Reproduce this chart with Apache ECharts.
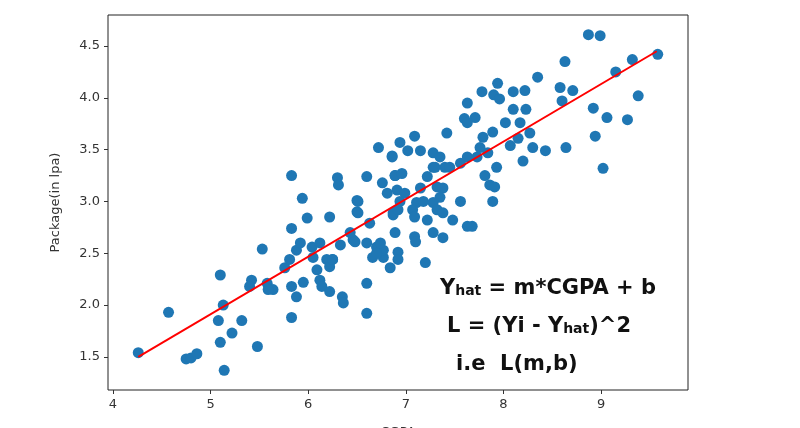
<!DOCTYPE html>
<html>
<head>
<meta charset="utf-8">
<script src="https://cdn.jsdelivr.net/npm/echarts@6/dist/echarts.min.js"></script>
<style>html,body{margin:0;padding:0;background:#fff}#main{width:800px;height:428px}</style>
</head>
<body>
<div id="main"></div>
<script>
// CGPA vs package points
var cgpa = [4.26,4.57,4.75,4.8,4.86,5.1,5.08,5.13,5.1,5.14,5.22,5.32,5.48,5.53,5.42,5.4,5.58,5.64,5.59,
  5.83,5.88,5.95,5.76,5.81,5.88,5.92,5.83,5.94,5.99,5.83,5.83,6.04,6.12,6.05,6.09,6.12,6.14,6.22,
  6.19,6.25,6.22,6.35,6.36,6.46,6.6,6.7,6.74,6.6,6.6,6.66,6.77,6.84,6.86,6.89,6.87,6.5,6.5,
  6.22,6.25,6.43,6.33,6.48,6.63,6.51,6.51,6.6,6.3,6.31,6.76,6.81,6.89,6.96,6.91,6.99,6.94,6.77,
  6.72,6.86,7.02,7.15,7.28,7.35,7.09,6.94,7.15,7.22,7.28,7.32,7.38,7.35,7.11,7.18,7.07,6.87,6.92,
  7.28,7.32,7.38,7.4,7.56,7.45,7.3,7.48,7.38,7.28,7.22,7.09,7.09,7.1,7.2,6.92,6.92,6.89,6.74,6.7,
  7.42,7.63,7.73,7.93,7.81,7.86,7.91,7.89,7.56,7.63,7.68,7.6,7.71,7.63,7.63,7.78,7.9,7.96,7.94,
  8.02,8.17,7.79,7.89,7.76,7.84,8.07,8.15,8.1,8.22,8.1,8.23,8.27,8.2,8.3,8.43,8.64,8.35,8.58,8.71,
  8.6,8.63,8.87,8.99,9.58,9.32,9.15,9.38,8.92,9.06,9.27,8.94,9.02];
var pkg = [1.54,1.93,1.48,1.49,1.53,2.29,1.85,2.0,1.64,1.37,1.73,1.85,1.6,2.54,2.24,2.18,2.21,2.15,2.15,
  2.18,2.08,2.22,2.36,2.44,2.53,2.6,3.25,3.03,2.84,2.74,1.88,2.56,2.6,2.46,2.34,2.24,2.18,2.13,
  2.44,2.44,2.37,2.08,2.02,2.63,2.6,2.56,2.53,2.21,1.92,2.46,2.46,2.36,3.43,3.25,2.87,3.01,2.9,
  2.85,2.44,2.7,2.58,2.61,2.79,3.0,2.89,3.24,3.23,3.16,3.18,3.08,3.25,3.27,3.11,3.08,3.0,2.53,
  3.52,3.44,3.49,3.49,3.47,3.43,3.63,3.57,3.13,3.24,3.33,3.14,3.13,3.04,2.99,3.0,2.92,2.89,2.92,
  2.99,2.92,2.89,3.33,3.37,3.33,3.33,2.82,2.65,2.7,2.82,2.85,2.66,2.61,2.41,2.51,2.44,2.7,2.6,2.5,
  3.66,3.43,3.43,3.33,3.25,3.16,3.14,3.0,3.0,2.76,2.76,3.8,3.81,3.76,3.95,4.06,4.03,3.99,4.14,
  3.76,3.76,3.62,3.67,3.52,3.47,3.54,3.61,4.06,4.07,3.89,3.89,3.66,3.39,3.52,3.49,3.52,4.2,4.1,4.07,
  3.97,4.35,4.61,4.6,4.42,4.37,4.25,4.02,3.9,3.81,3.79,3.63,3.32];
// fitted line endpoints
var lineX = [4.26, 9.57];
var lineY = [1.5, 4.45];
var xTicks = [4, 5, 6, 7, 8, 9];
var yTicks = [1.5, 2.0, 2.5, 3.0, 3.5, 4.0, 4.5];

var pts = [];
for (var i = 0; i < cgpa.length; i++) {
    pts.push([cgpa[i], pkg[i]]);
}
var fit = [];
for (var j = 0; j < lineX.length; j++) {
    fit.push([lineX[j], lineY[j]]);
}

var chart = echarts.init(document.getElementById('main'));
var tickFont = {color: '#333', fontSize: 13, fontFamily: 'DejaVu Sans'};
var big = {fontSize: 21, fontWeight: 'bold', fontFamily: 'DejaVu Sans', fill: '#111'};
var sub = {fontSize: 14, fontWeight: 'bold', fontFamily: 'DejaVu Sans', fill: '#111', padding: [6, 0, 0, 0]};
var option = {
    animation: false,
    grid: {left: 108, right: 112, top: 15, bottom: 38, show: true, borderColor: '#222', borderWidth: 1,
        containLabel: false, outerBoundsMode: 'none'},
    xAxis: {
        type: 'value', min: 3.95, max: 9.89,
        name: 'CGPA', nameLocation: 'middle', nameGap: 36,
        nameTextStyle: {color: '#333', fontSize: 13, fontFamily: 'DejaVu Sans'},
        axisLine: {show: false}, splitLine: {show: false},
        axisTick: {show: true, customValues: xTicks, length: 4, lineStyle: {color: '#333'}},
        axisLabel: Object.assign({customValues: xTicks, margin: 8}, tickFont)
    },
    yAxis: {
        type: 'value', min: 1.18, max: 4.8,
        name: 'Package(in lpa)', nameLocation: 'middle', nameGap: 46,
        nameTextStyle: {color: '#333', fontSize: 13, fontFamily: 'DejaVu Sans'},
        axisLine: {show: false}, splitLine: {show: false},
        axisTick: {show: true, customValues: yTicks, length: 4, lineStyle: {color: '#333'}},
        axisLabel: Object.assign({customValues: yTicks, margin: 8, formatter: function (v) { return v.toFixed(1); }}, tickFont)
    },
    series: [
        {type: 'scatter', data: pts, symbolSize: 11, itemStyle: {color: '#1f77b4', opacity: 1}},
        {type: 'line', data: fit, symbol: 'none', lineStyle: {color: '#ff0000', width: 2}, z: 5}
    ],
    graphic: [
        {type: 'text', left: 440, top: 278, style: {text: '{b|Y}{s|hat}{b| = m*CGPA + b}', rich: {b: big, s: sub}}},
        {type: 'text', left: 447, top: 316, style: {text: '{b|L = (Yi - Y}{s|hat}{b|)^2}', rich: {b: big, s: sub}}},
        {type: 'text', left: 456, top: 354, style: Object.assign({text: 'i.e  L(m,b)'}, big)}
    ]
};
chart.setOption(option);
</script>
</body>
</html>
